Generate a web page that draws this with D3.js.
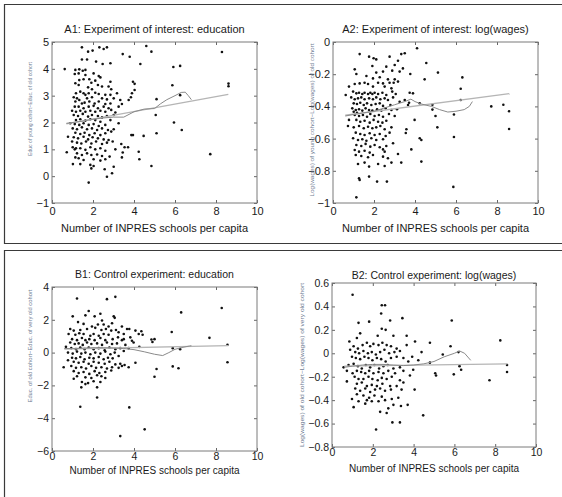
<!DOCTYPE html>
<html>
<head>
<meta charset="utf-8">
<script src="https://cdn.jsdelivr.net/npm/d3@7"></script>
<style>
    body { margin: 0; background: #fff; }
    svg { display: block; font-family: "Liberation Sans", Arial, sans-serif; }
</style>
</head>
<body>
<div id="chart"></div>
<script>
// x axis is shared by all four panels
var xTicks = [0, 2, 4, 6, 8, 10];

// A1: education, young vs old cohort
var a1Ticks = [-1, 0, 1, 2, 3, 4, 5];
var a1Points = [
    [1.46,4.80],[2.31,4.80],[2.52,4.74],[2.68,4.80],[4.60,4.85],[1.76,4.64],[1.98,4.68],[3.45,4.55],[3.79,4.45],[4.85,4.64],
    [1.46,4.35],[1.71,4.35],[2.15,4.27],[2.47,4.18],[2.85,4.21],[4.31,4.18],
    [0.62,3.99],[1.14,3.96],[1.33,3.98],[1.50,3.93],[1.63,3.96],[1.11,3.81],[1.30,3.83],[1.63,3.77],[2.03,3.83],[2.28,3.73],[2.36,3.68],[1.33,3.58],[1.54,3.61],[1.82,3.61],[2.85,3.52],[3.95,3.52],[4.03,3.44],
    [1.14,3.46],[1.30,3.40],[1.92,3.48],[2.11,3.56],[2.24,3.40],[2.44,3.34],[2.76,3.34],[1.76,3.31],[1.95,3.24],[2.89,3.24],[4.03,3.21],[3.90,3.09],
    [1.38,3.15],[1.17,3.09],[1.54,3.09],[1.63,3.03],[1.79,3.09],[2.11,3.11],[2.28,3.06],[2.60,3.03],[2.85,3.03],[3.17,3.09],[3.85,2.94],
    [1.06,2.94],[1.22,2.90],[1.33,2.84],[1.71,2.90],[1.95,2.94],[2.44,2.90],[2.68,2.86],[3.01,2.90],[3.33,2.84],[3.74,2.84],
    [1.14,2.78],[1.46,2.71],[1.59,2.74],[1.82,2.78],[2.08,2.71],[2.28,2.78],[2.60,2.69],[2.85,2.71],[3.41,2.69],
    [1.11,2.59],[1.30,2.59],[1.54,2.53],[1.79,2.59],[2.03,2.62],[2.24,2.53],[2.52,2.59],[2.76,2.53],[3.25,2.59],
    [0.98,2.44],[1.17,2.40],[1.38,2.44],[1.63,2.40],[1.87,2.44],[2.11,2.40],[2.36,2.44],[2.60,2.40],[2.89,2.47],[3.09,2.37],
    [1.06,2.28],[1.27,2.24],[1.50,2.32],[1.76,2.22],[1.95,2.28],[2.24,2.24],[2.44,2.19],[2.68,2.24],[3.01,2.28],
    [1.17,2.09],[1.38,2.12],[1.63,2.07],[1.87,2.12],[2.11,2.09],[2.36,2.03],[2.85,2.09],
    [0.89,1.97],[1.11,1.94],[1.33,1.91],[1.54,1.97],[1.79,1.91],[2.03,1.94],[2.28,1.87],[2.60,1.91],[3.25,1.97],
    [1.01,1.78],[1.22,1.75],[1.46,1.82],[1.71,1.75],[1.95,1.78],[2.20,1.72],[2.44,1.78],[2.73,1.72],[3.01,1.75],
    [1.14,1.62],[1.38,1.57],[1.59,1.62],[1.82,1.53],[2.08,1.60],[2.36,1.53],[2.60,1.60],[2.89,1.66],
    [0.78,1.47],[1.06,1.45],[1.27,1.41],[1.54,1.47],[1.76,1.37],[1.98,1.45],[2.24,1.41],[2.52,1.37],[2.76,1.35],[3.87,1.53],[3.95,1.53],[4.47,1.50],
    [0.98,1.29],[1.22,1.25],[1.43,1.22],[1.66,1.29],[1.92,1.22],[2.15,1.29],[2.44,1.20],[2.68,1.25],[2.96,1.29],[3.38,1.20],
    [1.01,1.08],[1.17,1.04],[1.11,1.00],[1.38,1.04],[1.63,0.98],[1.87,1.08],[2.11,1.00],[2.36,1.04],[2.60,0.95],[3.09,1.00],[3.54,1.08],[3.71,1.08],
    [0.72,0.89],[1.22,0.85],[1.46,0.79],[1.71,0.85],[1.92,0.79],[2.20,0.81],[2.44,0.75],[2.81,0.73],[3.45,0.88],[4.23,0.91],
    [1.14,0.70],[1.30,0.67],[1.54,0.60],[2.03,0.63],[2.36,0.58],[2.60,0.63],[3.41,0.70],[4.26,0.63],
    [1.02,0.45],[1.38,0.45],[1.87,0.42],[2.03,0.38],[3.01,0.35],[4.85,0.38],
    [1.92,0.29],[2.57,0.26],[2.93,0.11],[2.68,-0.02],[1.79,-0.24],
    [8.29,4.63],[5.92,4.07],[6.25,4.11],[5.87,3.39],[8.61,3.45],[8.61,3.35],[6.25,3.02],[5.10,2.87],[5.06,2.28],[5.95,2.00],[5.10,1.60],[6.33,1.72],[7.72,0.82]
];
var a1Fit = [[0.7,1.95],[8.6,3.05]];
var a1Smooth = [[0.7,1.97],[1.5,2.05],[2.0,2.12],[2.5,2.17],[3.0,2.20],[3.5,2.20],[4.0,2.40],[4.5,2.50],[5.0,2.52],[5.3,2.70],[5.6,2.85],[6.0,3.00],[6.3,3.12],[6.5,3.13],[6.65,3.00],[6.8,2.85]];

// A2: log(wages), young vs old cohort
var a2Ticks = [-1, -0.8, -0.6, -0.4, -0.2, 0];
var a2Points = [
    [1.30,-0.075],[1.76,-0.091],[1.98,-0.101],[2.11,-0.108],[2.76,-0.091],[3.33,-0.075],[3.50,-0.070],[4.10,-0.039],
    [3.17,-0.116],[1.92,-0.149],[2.60,-0.153],[3.01,-0.143],[1.06,-0.170],[1.14,-0.199],[1.63,-0.211],[2.11,-0.190],[2.44,-0.184],[2.89,-0.178],[3.25,-0.184],[3.41,-0.164],[3.77,-0.199],[4.47,-0.232],[3.17,-0.246],[3.01,-0.232],[2.28,-0.219],[1.95,-0.226],
    [0.78,-0.277],[1.06,-0.261],[1.30,-0.257],[1.54,-0.253],[1.71,-0.261],[1.95,-0.277],[2.20,-0.253],[2.44,-0.257],[2.76,-0.253],[2.96,-0.253],[2.68,-0.232],[2.52,-0.277],[2.85,-0.288],
    [0.98,-0.308],[1.14,-0.319],[1.27,-0.315],[1.43,-0.323],[1.54,-0.315],[1.71,-0.323],[1.82,-0.315],[1.92,-0.323],[2.03,-0.315],[2.20,-0.323],[2.41,-0.315],[2.60,-0.329],[2.89,-0.308],[3.06,-0.323],[3.74,-0.315],[3.90,-0.319],[0.62,-0.329],
    [0.89,-0.344],[1.06,-0.356],[1.22,-0.350],[1.38,-0.344],[1.54,-0.356],[1.76,-0.350],[1.95,-0.356],[2.11,-0.344],[2.31,-0.356],[2.52,-0.350],[2.68,-0.360],[2.93,-0.344],[3.25,-0.371],[3.50,-0.360],[3.71,-0.377],
    [1.01,-0.381],[1.17,-0.385],[1.33,-0.377],[1.50,-0.391],[1.66,-0.381],[1.87,-0.391],[2.08,-0.385],[2.28,-0.381],[2.44,-0.397],[2.80,-0.391],[3.66,-0.391],
    [0.94,-0.412],[1.11,-0.422],[1.27,-0.418],[1.43,-0.426],[1.59,-0.412],[1.76,-0.422],[1.92,-0.426],[2.15,-0.418],[2.36,-0.426],[2.57,-0.412],[2.85,-0.422],[3.12,-0.418],[1.01,-0.433],[1.17,-0.439],
    [1.06,-0.453],[1.27,-0.460],[1.46,-0.453],[1.66,-0.464],[1.82,-0.447],[2.03,-0.460],[2.24,-0.453],[2.44,-0.464],[2.73,-0.447],[3.01,-0.460],
    [0.78,-0.484],[1.14,-0.484],[1.33,-0.495],[1.54,-0.489],[1.79,-0.501],[1.98,-0.484],[2.20,-0.495],[2.41,-0.501],[2.60,-0.489],[3.98,-0.484],
    [0.73,-0.522],[1.01,-0.530],[1.27,-0.522],[1.50,-0.536],[1.71,-0.526],[1.92,-0.536],[2.11,-0.530],[2.31,-0.522],[2.52,-0.542],[2.85,-0.530],[3.58,-0.542],
    [1.11,-0.563],[1.33,-0.571],[1.54,-0.578],[1.79,-0.567],[2.03,-0.578],[2.28,-0.571],[2.57,-0.584],[2.76,-0.563],
    [0.98,-0.598],[1.22,-0.609],[1.43,-0.604],[1.63,-0.613],[1.87,-0.598],[2.11,-0.609],[2.44,-0.604],[4.23,-0.598],[4.31,-0.609],
    [1.14,-0.640],[1.38,-0.646],[1.59,-0.633],[1.82,-0.650],[2.03,-0.640],[2.28,-0.654],[2.60,-0.646],[2.93,-0.629],
    [1.06,-0.671],[1.27,-0.681],[1.54,-0.675],[1.79,-0.687],[2.44,-0.667],[2.52,-0.681],[3.82,-0.667],
    [1.11,-0.702],[1.38,-0.708],[1.71,-0.716],[1.95,-0.702],[2.44,-0.712],[2.68,-0.722],[3.17,-0.696],
    [1.22,-0.758],[1.54,-0.749],[1.76,-0.774],[2.20,-0.758],[2.52,-0.770],[2.85,-0.749],[3.33,-0.749],[4.31,-0.743],
    [1.27,-0.847],[1.30,-0.857],[1.76,-0.836],[2.15,-0.867],[2.63,-0.867],[1.14,-0.965],
    [4.55,-0.13],[5.12,-0.19],[6.31,-0.22],[6.23,-0.29],[6.23,-0.36],[4.85,-0.39],[4.85,-0.42],[5.90,-0.45],[5.00,-0.46],[5.09,-0.53],
    [7.72,-0.40],[8.31,-0.39],[8.59,-0.43],[8.59,-0.54],[5.90,-0.59],[5.87,-0.90],[4.23,-0.38],[3.55,-0.565]
];
var a2Fit = [[0.6,-0.455],[8.6,-0.32]];
var a2Smooth = [[0.6,-0.46],[1.0,-0.45],[1.5,-0.44],[2.0,-0.43],[2.5,-0.41],[3.0,-0.39],[3.5,-0.37],[3.8,-0.355],[4.0,-0.37],[4.3,-0.385],[4.8,-0.40],[5.2,-0.42],[5.6,-0.435],[6.0,-0.43],[6.4,-0.42],[6.65,-0.40],[6.8,-0.37]];

// B1: education, old vs very old cohort
var b1Ticks = [-6, -4, -2, 0, 2, 4];
var b1Points = [
    [1.22,3.30],[2.68,3.26],[3.09,3.40],
    [1.79,2.54],[1.63,2.27],[1.01,2.21],[2.08,2.21],[2.36,2.37],[2.44,1.96],[3.01,2.21],[3.06,2.12],
    [1.27,1.86],[1.54,1.75],[1.95,1.59],[2.24,1.71],[2.52,1.71],[2.76,1.59],[2.93,1.79],[3.41,1.59],[3.66,1.44],[3.77,1.44],[4.07,1.34],[4.36,1.30],
    [0.89,1.44],[1.06,1.34],[1.38,1.38],[1.71,1.44],[2.11,1.51],[2.41,1.38],[2.63,1.44],[2.89,1.34],[3.12,1.38],[3.50,1.13],[4.23,1.13],[4.42,1.09],
    [0.81,1.13],[1.14,1.09],[1.33,1.18],[1.54,1.13],[1.87,1.03],[2.03,1.13],[2.28,1.03],[2.52,1.13],[2.76,1.09],[3.25,1.24],[3.50,0.82],[3.82,0.93],
    [0.98,0.82],[1.22,0.76],[1.46,0.89],[1.63,0.76],[1.82,0.82],[2.08,0.76],[2.36,0.89],[2.60,0.76],[2.96,0.82],[3.22,0.93],[3.41,0.76],[3.90,0.72],
    [0.89,0.62],[1.11,0.52],[1.30,0.56],[1.50,0.47],[1.71,0.62],[1.92,0.52],[2.20,0.56],[2.44,0.47],[2.68,0.62],[2.93,0.52],[3.17,0.56],[3.58,0.47],[3.98,0.62],[4.26,0.35],
    [0.68,0.35],[0.94,0.27],[1.17,0.21],[1.38,0.31],[1.59,0.21],[1.79,0.31],[2.03,0.21],[2.28,0.27],[2.57,0.14],[2.80,0.31],[3.09,0.21],[3.33,0.27],[3.74,0.27],
    [0.78,0.00],[1.01,-0.06],[1.22,0.06],[1.43,-0.06],[1.63,0.00],[1.87,-0.10],[2.11,0.00],[2.36,-0.06],[2.60,0.06],[2.85,-0.10],[3.06,0.00],[3.50,0.10],
    [0.98,-0.31],[1.17,-0.35],[1.38,-0.27],[1.59,-0.41],[1.82,-0.31],[2.03,-0.35],[2.28,-0.27],[2.52,-0.41],[2.73,-0.31],[2.96,-0.35],[3.25,-0.21],
    [0.78,-0.47],[1.06,-0.56],[1.30,-0.62],[1.54,-0.56],[1.79,-0.68],[2.03,-0.56],[2.28,-0.62],[2.57,-0.68],[2.80,-0.56],[3.09,-0.72],[3.33,-0.68],[3.54,-0.76],
    [0.57,-0.89],[0.94,-0.82],[1.17,-0.93],[1.43,-0.89],[1.66,-0.97],[1.92,-0.82],[2.15,-0.93],[2.41,-0.89],[2.68,-0.97],[2.93,-0.89],[3.25,-0.93],[3.74,-0.89],[4.07,-0.62],
    [1.06,-1.13],[1.30,-1.24],[1.54,-1.18],[1.82,-1.30],[2.08,-1.13],[2.31,-1.24],[2.60,-1.18],[2.89,-1.09],[3.41,-0.82],
    [1.22,-1.44],[1.63,-1.51],[1.92,-1.55],[2.20,-1.38],[2.41,-1.44],[2.60,-1.55],
    [1.06,-1.59],[1.46,-1.79],[1.76,-1.86],[2.03,-1.75],[2.36,-1.79],
    [1.43,-2.12],[1.63,-1.92],[2.20,-2.12],
    [2.20,-2.74],[1.38,-3.30],[3.77,-3.34],[3.33,-5.09],[4.52,-4.68],
    [8.28,2.72],[6.30,2.45],[5.84,1.26],[7.68,0.90],[4.85,0.80],[5.00,0.82],[4.90,0.65],[5.89,0.27],[8.56,0.48],[6.25,0.21],
    [5.89,-0.84],[6.17,-0.95],[5.10,-1.00],[5.00,-1.47],[8.56,-0.59]
];
var b1Fit = [[0.6,0.22],[8.6,0.42]];
var b1Smooth = [[0.6,0.25],[1.0,0.25],[1.5,0.27],[2.0,0.30],[2.5,0.30],[3.0,0.28],[3.5,0.25],[4.0,0.18],[4.5,0.05],[5.0,-0.10],[5.4,-0.18],[5.7,0.00],[6.0,0.20],[6.3,0.30],[6.7,0.40],[6.8,0.42]];

// B2: log(wages), old vs very old cohort
var b2Ticks = [-0.8, -0.6, -0.4, -0.2, 0, 0.2, 0.4, 0.6];
var b2Points = [
    [1.01,0.50],[2.44,0.41],[2.60,0.41],[2.41,0.34],[3.45,0.30],
    [1.30,0.26],[1.82,0.27],[2.85,0.28],[2.44,0.21],[2.63,0.20],[2.24,0.15],[3.01,0.15],[3.66,0.15],[4.07,0.10],[4.80,0.09],[0.85,0.10],[1.22,0.13],[1.38,0.17],
    [1.06,0.06],[1.27,0.04],[1.50,0.07],[1.71,0.09],[1.87,0.06],[2.03,0.08],[2.28,0.07],[2.47,0.09],[2.68,0.07],[2.89,0.06],[3.17,0.04],[3.33,0.02],[3.66,0.07],[4.39,0.01],[3.93,-0.03],
    [0.89,0.03],[1.14,0.01],[1.33,0.00],[1.54,0.02],[1.76,0.00],[1.95,0.01],[2.15,-0.01],[2.36,0.01],[2.57,0.03],[2.80,0.00],[3.06,0.01],[3.50,-0.04],[4.23,-0.06],
    [0.98,-0.03],[1.17,-0.04],[1.38,-0.05],[1.59,-0.03],[1.79,-0.04],[1.98,-0.06],[2.20,-0.04],[2.41,-0.05],[2.63,-0.07],[2.89,-0.04],[3.17,-0.03],[3.74,-0.07],[4.80,-0.08],
    [0.57,-0.12],[0.81,-0.10],[1.06,-0.09],[1.27,-0.11],[1.46,-0.13],[1.66,-0.10],[1.87,-0.12],[2.08,-0.10],[2.31,-0.13],[2.52,-0.11],[2.73,-0.10],[3.01,-0.13],[3.33,-0.12],[3.98,-0.14],
    [0.73,-0.15],[1.01,-0.17],[1.22,-0.15],[1.43,-0.16],[1.63,-0.17],[1.82,-0.15],[2.03,-0.17],[2.28,-0.16],[2.52,-0.17],[2.76,-0.15],[3.09,-0.17],[3.50,-0.15],[3.82,-0.19],
    [1.11,-0.20],[1.30,-0.22],[1.54,-0.22],[1.79,-0.20],[1.98,-0.22],[2.24,-0.23],[2.44,-0.21],[2.68,-0.22],[2.93,-0.20],[3.33,-0.23],
    [0.73,-0.24],[1.22,-0.26],[1.46,-0.25],[1.71,-0.28],[1.95,-0.27],[2.20,-0.28],[2.47,-0.26],[2.85,-0.28],[3.17,-0.28],[3.50,-0.25],
    [1.14,-0.30],[1.38,-0.32],[1.63,-0.30],[1.87,-0.33],[2.11,-0.31],[2.36,-0.30],[2.60,-0.32],[2.89,-0.31],[3.41,-0.31],
    [1.22,-0.35],[1.54,-0.36],[1.82,-0.38],[2.08,-0.36],[2.44,-0.37],[2.93,-0.39],[3.25,-0.38],
    [0.98,-0.39],[1.30,-0.41],[1.71,-0.40],[1.95,-0.41],[2.28,-0.41],[2.60,-0.40],[3.01,-0.44],[3.38,-0.45],[3.71,-0.44],
    [1.06,-0.46],[1.63,-0.43],[2.36,-0.50],[2.68,-0.51],[2.76,-0.47],
    [2.96,-0.59],[3.33,-0.59],[4.47,-0.53],[2.16,-0.65],
    [5.87,0.28],[8.25,0.11],[5.81,0.06],[6.20,0.01],[5.43,-0.01],[5.97,-0.18],[5.10,-0.19],[5.06,-0.17],[6.25,-0.11],[6.33,-0.14],
    [8.58,-0.10],[8.58,-0.16],[7.72,-0.23],[4.05,-0.31]
];
var b2Fit = [[0.6,-0.11],[8.6,-0.09]];
var b2Smooth = [[0.6,-0.12],[1.0,-0.11],[1.5,-0.10],[2.0,-0.095],[2.5,-0.095],[3.0,-0.10],[3.5,-0.105],[4.0,-0.10],[4.5,-0.09],[5.0,-0.07],[5.5,-0.03],[6.0,0.00],[6.25,0.02],[6.5,0.00],[6.7,-0.04],[6.8,-0.06]];

var xLabel = "Number of INPRES schools per capita";

function init() {
    var w = 562;
    var h = 497;

    var svg = d3.select("#chart")
                .append("svg")
                .attr("width", w)
                .attr("height", h);

    // outer frames around the two rows (they run off the right/bottom edge)
    var frame = svg.append("g")
                   .attr("fill", "none")
                   .attr("stroke", "#3a3a3a")
                   .attr("stroke-width", 1.2);
    frame.append("path").attr("d", "M566,4.5H4.5V243.5H566");
    frame.append("path").attr("d", "M566,250.5H4.5V502");

    var panels = [
        { title: "A1: Experiment of interest: education", ylab: "Educ of young cohort\u2212Educ. of old cohort",
          points: a1Points, fit: a1Fit, smooth: a1Smooth, yTicks: a1Ticks, yDomain: [-1, 5],
          left: 52, top: 42, width: 205, height: 161, titleY: 33, xlabY: 232, tickPad: 4, font: 11,
          ylabX: 30, ylabY: 109, ylabLen: 94 },
        { title: "A2: Experiment of interest: log(wages)", ylab: "Log(wages) of young cohort\u2212Log(wages) of old cohort",
          points: a2Points, fit: a2Fit, smooth: a2Smooth, yTicks: a2Ticks, yDomain: [-1, 0],
          left: 333, top: 42, width: 205, height: 161, titleY: 33, xlabY: 232, tickPad: 4, font: 11,
          ylabX: 312, ylabY: 120, ylabLen: 153 },
        { title: "B1: Control experiment: education", ylab: "Educ. of old cohort\u2212Educ. of very old cohort",
          points: b1Points, fit: b1Fit, smooth: b1Smooth, yTicks: b1Ticks, yDomain: [-6, 4],
          left: 52, top: 287, width: 205, height: 164, titleY: 278, xlabY: 474, tickPad: 2, font: 10.5,
          ylabX: 29.5, ylabY: 346, ylabLen: 113 },
        { title: "B2: Control experiment: log(wages)", ylab: "Log(wages) of old cohort\u2212Log(wages) of very old cohort",
          points: b2Points, fit: b2Fit, smooth: b2Smooth, yTicks: b2Ticks, yDomain: [-0.8, 0.6],
          left: 332, top: 283, width: 204, height: 164, titleY: 279, xlabY: 472, tickPad: 2, font: 10.5,
          ylabX: 301.5, ylabY: 365, ylabLen: 164 }
    ];

    panels.forEach(function(p) { drawPanel(svg, p); });
}

function drawPanel(svg, p) {
    var x = d3.scaleLinear().domain([0, 10]).range([p.left, p.left + p.width]);
    var y = d3.scaleLinear().domain(p.yDomain).range([p.top + p.height, p.top]);
    var fmt = d3.format("~g");

    var g = svg.append("g");

    // matlab style axes: ticks pointing inwards on all four sides
    g.append("g")
        .attr("transform", "translate(0," + (p.top + p.height) + ")")
        .call(d3.axisBottom(x).tickValues(xTicks).tickSizeInner(-3).tickSizeOuter(0).tickPadding(p.tickPad).tickFormat(fmt));
    g.append("g")
        .attr("transform", "translate(0," + p.top + ")")
        .call(d3.axisTop(x).tickValues(xTicks).tickSizeInner(-3).tickSizeOuter(0).tickFormat(""));
    g.append("g")
        .attr("transform", "translate(" + p.left + ",0)")
        .call(d3.axisLeft(y).tickValues(p.yTicks).tickSizeInner(-3).tickSizeOuter(0).tickPadding(3).tickFormat(fmt));
    g.append("g")
        .attr("transform", "translate(" + (p.left + p.width) + ",0)")
        .call(d3.axisRight(y).tickValues(p.yTicks).tickSizeInner(-3).tickSizeOuter(0).tickFormat(""));

    g.selectAll(".domain").remove();
    g.selectAll(".tick line").attr("stroke", "#666");
    g.selectAll(".tick text")
        .attr("fill", "#1a1a1a")
        .style("font-size", p.font + "px")
        .style("font-family", "'Liberation Sans', Arial, sans-serif");

    // plot box
    g.append("rect")
        .attr("x", p.left)
        .attr("y", p.top)
        .attr("width", p.width)
        .attr("height", p.height)
        .attr("fill", "none")
        .attr("stroke", "#7a7a7a")
        .attr("stroke-width", 1);

    var line = d3.line()
                 .x(function(d) { return x(d[0]); })
                 .y(function(d) { return y(d[1]); });

    // scatter
    g.append("g")
        .selectAll("circle")
        .data(p.points)
        .enter()
        .append("circle")
        .attr("cx", function(d) { return x(d[0]); })
        .attr("cy", function(d) { return y(d[1]); })
        .attr("r", 1.3)
        .attr("fill", "#111");

    // linear fit and kernel smooth
    g.append("path")
        .attr("d", line(p.fit))
        .attr("fill", "none")
        .attr("stroke", "#b5b5b5")
        .attr("stroke-width", 1.3);
    g.append("path")
        .attr("d", line(p.smooth))
        .attr("fill", "none")
        .attr("stroke", "#8a8a8a")
        .attr("stroke-width", 1);

    // title and labels
    g.append("text")
        .attr("x", x(5))
        .attr("y", p.titleY)
        .attr("text-anchor", "middle")
        .attr("fill", "#1a1a1a")
        .style("font-size", p.font + "px")
        .text(p.title);

    g.append("text")
        .attr("x", x(5))
        .attr("y", p.xlabY)
        .attr("text-anchor", "middle")
        .attr("fill", "#1a1a1a")
        .style("font-size", (p.font === 11 ? 11 : 10) + "px")
        .text(xLabel);

    g.append("text")
        .attr("transform", "translate(" + p.ylabX + "," + p.ylabY + ") rotate(-90)")
        .attr("text-anchor", "middle")
        .attr("dy", "0.35em")
        .attr("textLength", p.ylabLen)
        .attr("lengthAdjust", "spacingAndGlyphs")
        .attr("fill", "#6f7d93")
        .style("font-size", "6px")
        .text(p.ylab);
}

window.onload = init;
</script>
</body>
</html>
